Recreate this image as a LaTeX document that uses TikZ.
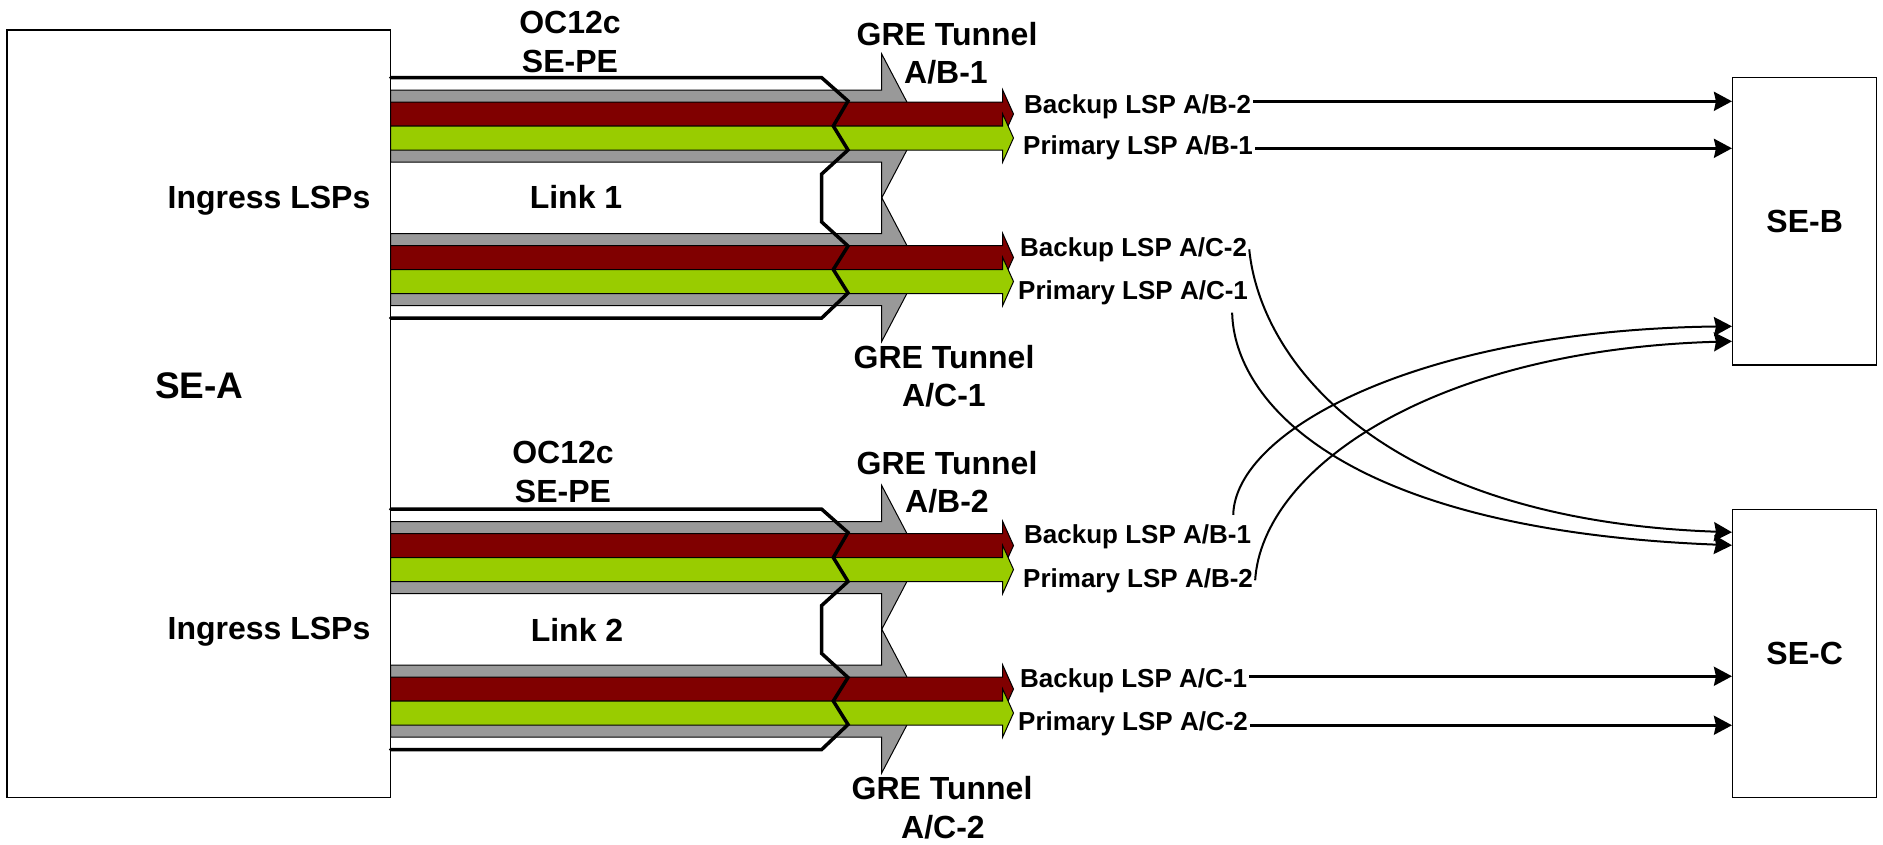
\documentclass[tikz,border=0pt]{standalone}
\usepackage{fontspec}
\setmainfont{Liberation Sans}
\usetikzlibrary{arrows.meta}
\definecolor{lspred}{HTML}{800000}
\definecolor{lspgreen}{HTML}{99CC00}
\definecolor{tungray}{HTML}{999999}
\newcommand\drawlinkgroup{%
  % grey GRE tunnel arrows
  \path[tunnel] (390.7,90) -- (881.7,90) -- (881.7,54) -- (919.5,126) -- (881.7,198) -- (881.7,162) -- (390.7,162) -- cycle;
  \path[tunnel] (390.7,233.5) -- (881.7,233.5) -- (881.7,197.5) -- (919.5,269.5) -- (881.7,341.5) -- (881.7,305.5) -- (390.7,305.5) -- cycle;
  % LSP arrows
  \path[redarr] (390.7,102) -- (1002.7,102) -- (1002.7,90) -- (1013.5,114) -- (1002.7,138) -- (1002.7,126) -- (390.7,126) -- cycle;
  \path[greenarr] (390.7,126) -- (1002.7,126) -- (1002.7,114) -- (1013.5,138) -- (1002.7,162) -- (1002.7,150) -- (390.7,150) -- cycle;
  \path[redarr] (390.7,245.5) -- (1002.7,245.5) -- (1002.7,233.5) -- (1013.5,257.5) -- (1002.7,281.5) -- (1002.7,269.5) -- (390.7,269.5) -- cycle;
  \path[greenarr] (390.7,269.5) -- (1002.7,269.5) -- (1002.7,257.5) -- (1013.5,281.5) -- (1002.7,305.5) -- (1002.7,293.5) -- (390.7,293.5) -- cycle;
  % OC12c link
  \draw[link] (390.7,77.7) -- (821.7,77.7) -- (848,101) -- (833.3,126) -- (848,150) -- (821.7,174) -- (821.7,222) -- (848,246) -- (833.3,269.5) -- (848,293) -- (821.7,318) -- (390.7,318);
}
\begin{document}
\begin{tikzpicture}[x=1pt,y=-1pt,
  box/.style={draw=black,line width=1.5pt,fill=white,inner sep=0pt},
  big/.style={font=\bfseries\fontsize{32}{38}\selectfont,inner sep=0pt},
  small/.style={font=\bfseries\fontsize{26}{30}\selectfont,inner xsep=2pt,inner ysep=0pt},
  tunnel/.style={fill=tungray,draw=black,line width=1pt},
  redarr/.style={fill=lspred,draw=black,line width=1pt},
  greenarr/.style={fill=lspgreen,draw=black,line width=1pt},
  link/.style={draw=black,line width=3.5pt,line cap=round,line join=miter},
  lsp/.style={draw=black,line width=2.5pt,-{Stealth[length=18pt,width=19pt,inset=2pt]}},
  curv/.style={draw=black,line width=2pt,-{Stealth[length=18pt,width=19pt,inset=2pt]}},
]
\useasboundingbox (0,0) rectangle (1883,844);
% boxes
\node[box,minimum width=383.7pt,minimum height=767.7pt] (seA) at (198.85,413.85) {};
\node[box,minimum width=144pt,minimum height=287.7pt,font=\bfseries\fontsize{32}{38}\selectfont] (seB) at (1804.7,221.2) {SE-B};
\node[box,minimum width=144pt,minimum height=288pt,font=\bfseries\fontsize{32}{38}\selectfont] (seC) at (1804.7,653.3) {SE-C};
\node[font=\bfseries\fontsize{37}{44}\selectfont,inner sep=0pt,anchor=base] (seAlab) at (199.3,398.3) {SE-A};
% link groups
\begin{scope}
  \drawlinkgroup
\end{scope}
\begin{scope}[yshift=-431.5pt]
  \drawlinkgroup
\end{scope}
% group labels
\node[big,anchor=base] (oc1) at (570,33) {OC12c};
\node[big,anchor=base] (sepe1) at (570,72) {SE-PE};
\node[big,anchor=base] (ing1) at (269,208) {Ingress LSPs};
\node[big,anchor=base] (link1) at (576,208) {Link 1};
\node[big,anchor=base] (greab1a) at (947,45) {GRE Tunnel};
\node[big,anchor=base] (greab1b) at (946,83) {A/B-1};
\node[big,anchor=base] (greac1a) at (944,368) {GRE Tunnel};
\node[big,anchor=base] (greac1b) at (944,406) {A/C-1};
\node[big,anchor=base] (oc2) at (563,463) {OC12c};
\node[big,anchor=base] (sepe2) at (563,502) {SE-PE};
\node[big,anchor=base] (ing2) at (269,639.5) {Ingress LSPs};
\node[big,anchor=base] (link2) at (577,641) {Link 2};
\node[big,anchor=base] (greab2a) at (947,474) {GRE Tunnel};
\node[big,anchor=base] (greab2b) at (947,512) {A/B-2};
\node[big,anchor=base] (greac2a) at (942,799) {GRE Tunnel};
\node[big,anchor=base] (greac2b) at (943,838) {A/C-2};
% LSP labels
\node[small,anchor=base west] (labAB2) at (1022,113) {Backup LSP A/B-2};
\node[small,anchor=base west] (labAB1) at (1021,154) {Primary LSP A/B-1};
\node[small,anchor=base west] (labAC2) at (1018,256) {Backup LSP A/C-2};
\node[small,anchor=base west] (labAC1) at (1016,299) {Primary LSP A/C-1};
\node[small,anchor=base west] (labAB1b) at (1022,543) {Backup LSP A/B-1};
\node[small,anchor=base west] (labAB2b) at (1021,587) {Primary LSP A/B-2};
\node[small,anchor=base west] (labAC1b) at (1018,687) {Backup LSP A/C-1};
\node[small,anchor=base west] (labAC2b) at (1016,730) {Primary LSP A/C-2};
% targets
\coordinate (tAB2) at ([yshift=-24.7pt]seB.north west);
\coordinate (tAB1) at ([yshift=-71.7pt]seB.north west);
\coordinate (tB1) at ([yshift=-249.7pt]seB.north west);
\coordinate (tB2) at ([yshift=-264.7pt]seB.north west);
\coordinate (tC1) at ([yshift=-23.7pt]seC.north west);
\coordinate (tC2) at ([yshift=-36.7pt]seC.north west);
\coordinate (tAC1) at ([yshift=-167.7pt]seC.north west);
\coordinate (tAC2) at ([yshift=-216.7pt]seC.north west);
% straight LSP connectors
\draw[lsp] (labAB2.east |- tAB2) -- (tAB2);
\draw[lsp] (labAB1.east |- tAB1) -- (tAB1);
\draw[lsp] (labAC1b.east |- tAC1) -- (tAC1);
\draw[lsp] (labAC2b.east |- tAC2) -- (tAC2);
% curved LSP connectors
\coordinate (c2s) at ([xshift=-18pt,yshift=-8pt]labAC1.south east);
\coordinate (c3s) at ([xshift=-20pt,yshift=9pt]labAB1b.north east);
\draw[curv] (labAC2.east) .. controls (1260,360) and (1380,520) .. (tC1);
\draw[curv] (c2s) .. controls (1234,400) and (1340,530) .. (tC2);
\draw[curv] (c3s) .. controls (1235,430) and (1420,330) .. (tB1);
\draw[curv] (labAB2b.east) .. controls (1262,470) and (1430,350) .. (tB2);
\end{tikzpicture}
\end{document}
